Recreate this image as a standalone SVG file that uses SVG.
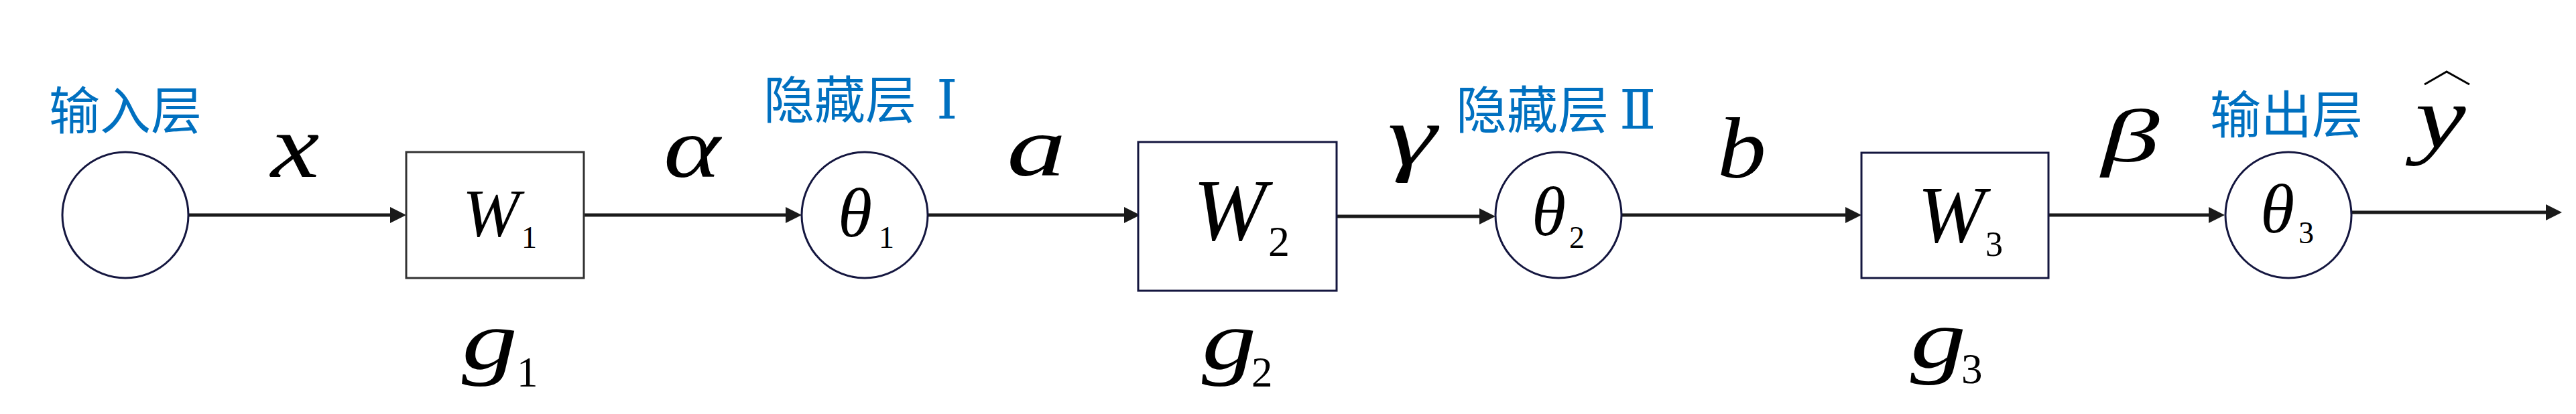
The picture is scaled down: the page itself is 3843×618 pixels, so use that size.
<svg xmlns="http://www.w3.org/2000/svg" width="3843" height="618" viewBox="0 0 3843 618">
<defs>
<style>
.node{fill:#fff;stroke:#14163f;stroke-width:3}
.box1{fill:#fff;stroke:#333;stroke-width:3}
.conn{stroke:#1a1a1a;stroke-width:5;fill:none}
.cn{fill:#0070C0;font-size:76px}
</style>
<marker id="arr" markerUnits="userSpaceOnUse" markerWidth="24" markerHeight="24" refX="4" refY="12" orient="auto">
<path d="M0,0 L24,12 L0,24 z" fill="#1a1a1a"/>
</marker>
</defs>
<rect width="3843" height="618" fill="#fff"/>

<g id="connectors">
<line class="conn" x1="282" y1="321" x2="586" y2="321" marker-end="url(#arr)"/>
<line class="conn" x1="871" y1="321" x2="1176" y2="321" marker-end="url(#arr)"/>
<line class="conn" x1="1384" y1="321" x2="1681" y2="321" marker-end="url(#arr)"/>
<line class="conn" x1="1993" y1="323" x2="2211" y2="323" marker-end="url(#arr)"/>
<line class="conn" x1="2419" y1="321" x2="2757" y2="321" marker-end="url(#arr)"/>
<line class="conn" x1="3056" y1="321" x2="3299" y2="321" marker-end="url(#arr)"/>
<line class="conn" x1="3508" y1="317" x2="3802" y2="317" marker-end="url(#arr)"/>
</g>

<g font-family="Liberation Serif, DejaVu Serif, serif" fill="#000">

<g id="edge-labels" font-style="italic">
<text transform="translate(404,264) scale(1.2,1)" font-size="136">x</text>
<text transform="translate(990,264) scale(1.24,1)" font-size="130">α</text>
<text transform="translate(1502,262) scale(1.38,1)" font-size="128">a</text>
<text transform="translate(2070,246) scale(1.45,1)" font-size="128">γ</text>
<text transform="translate(2562,265) scale(1.13,1)" font-size="129">b</text>
<text transform="translate(3135,241) scale(1.55,1)" font-size="112">β</text>
</g>

<g id="input">
<circle class="node" cx="187" cy="321" r="94"/>
<text class="cn" x="73" y="193" font-family="Noto Sans CJK SC, sans-serif">输入层</text>
</g>

<g id="W1">
<rect class="box1" x="606" y="227" width="265" height="188"/>
<text x="690" y="353" font-size="102" font-style="italic">W</text>
<text x="778" y="370" font-size="46">1</text>
<text transform="translate(689,550) scale(1.33,1)" font-size="125" font-style="italic">g</text>
<text x="771" y="577" font-size="63">1</text>
</g>

<g id="theta1">
<circle class="node" cx="1290" cy="321" r="94"/>
<text x="1250" y="353" font-size="104" font-style="italic">θ</text>
<text x="1311" y="370" font-size="46">1</text>
<text class="cn" x="1139" y="177" font-family="Noto Sans CJK SC, sans-serif">隐藏层<tspan font-family="DejaVu Serif, Liberation Serif, serif" font-size="80" dx="30">Ⅰ</tspan></text>
</g>

<g id="W2">
<rect class="node" x="1698" y="212" width="296" height="222"/>
<text x="1780" y="358" font-size="131" font-style="italic">W</text>
<text x="1892" y="382" font-size="64">2</text>
<text transform="translate(1793,550) scale(1.3,1)" font-size="125" font-style="italic">g</text>
<text x="1867" y="577" font-size="63">2</text>
</g>

<g id="theta2">
<circle class="node" cx="2325" cy="321" r="94"/>
<text x="2285" y="351" font-size="104" font-style="italic">θ</text>
<text x="2341" y="370" font-size="46">2</text>
<text class="cn" x="2172" y="192" font-family="Noto Sans CJK SC, sans-serif">隐藏层<tspan font-family="DejaVu Serif, Liberation Serif, serif" font-size="80" dx="16">Ⅱ</tspan></text>
</g>

<g id="W3">
<rect class="node" x="2777" y="228" width="279" height="187"/>
<text x="2861" y="361" font-size="120" font-style="italic">W</text>
<text x="2962" y="382" font-size="52">3</text>
<text transform="translate(2850,548) scale(1.33,1)" font-size="125" font-style="italic">g</text>
<text x="2926" y="572" font-size="63">3</text>
</g>

<g id="theta3">
<circle class="node" cx="3414" cy="321" r="94"/>
<text x="3372" y="347" font-size="104" font-style="italic">θ</text>
<text x="3429" y="363" font-size="46">3</text>
<text class="cn" x="3297" y="199" font-family="Noto Sans CJK SC, sans-serif">输出层</text>
</g>

<g id="output-label">
<text transform="translate(3603,220) scale(1.3,1)" font-size="131" font-style="italic">y</text>
<polyline points="3617,126 3650,107 3684,126" fill="none" stroke="#000" stroke-width="3"/>
</g>

</g>
</svg>
